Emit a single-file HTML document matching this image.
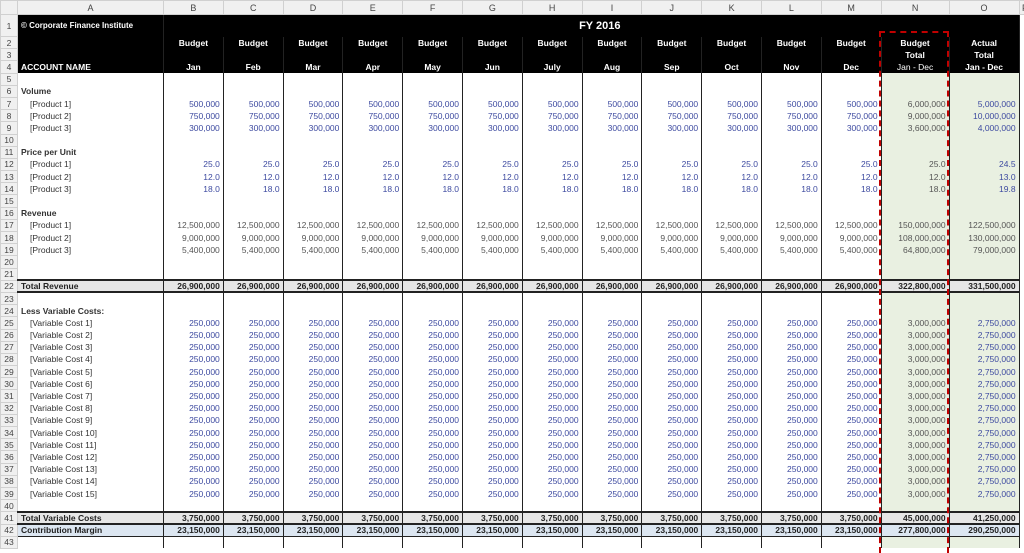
<!DOCTYPE html>
<html><head><meta charset="utf-8"><style>
body{margin:0;width:1024px;height:539px;overflow:hidden;background:#fff;font-family:"Liberation Sans",sans-serif;position:relative}
table{border-collapse:collapse;table-layout:fixed;width:1030px;position:absolute;left:0;top:0}
td,th{padding:0 3px;font-size:8.5px;white-space:nowrap;overflow:hidden;line-height:10px}
th{background:#f0f0f0;color:#444;font-weight:normal;border:1px solid #d0d0d0;text-align:center;padding:0}
tr{height:12.2px}
tr.h{height:14px} tr.h th{font-size:9px}
tr.r1{height:22px}
td{border-right:1px solid #222;text-align:right;color:#555}
td.a{text-align:left;color:#333;border-right:1px solid #222}
td.i{padding-left:12px}
.bk td{background:#000;color:#fff;font-weight:bold;text-align:center;font-size:8.5px}
.bk td.a{text-align:left}
.b{color:#3d4aa0}
.gr{background:#e9f0e1}
.bl td.x{color:#3d4aa0}
.bd{font-weight:bold;color:#222}
.tot td{background:#e6e6e6;font-weight:bold;color:#222;border-top:2px solid #222;border-bottom:2px solid #222}
.cm td{background:#dce6f1;font-weight:bold;color:#222;border-bottom:1px solid #222}
td.p{border:none;background:#fff}
#dash{position:absolute;left:879px;top:31px;width:66px;height:520px;border:2px dashed #c00000;border-bottom:none}
</style></head><body>
<table>
<colgroup><col style="width:17px"><col style="width:146px"><col span="12" style="width:59.8px"><col style="width:68px"><col style="width:70px"><col style="width:12px"></colgroup>
<tr class="h"><th></th><th>A</th><th>B</th><th>C</th><th>D</th><th>E</th><th>F</th><th>G</th><th>H</th><th>I</th><th>J</th><th>K</th><th>L</th><th>M</th><th>N</th><th>O</th><th>P</th></tr>
<tr class="bk r1"><th>1</th><td class="a" style="font-size:8px">© Corporate Finance Institute</td><td colspan="14" style="font-size:11px;padding-left:20px">FY 2016</td><td class="p"></td></tr>
<tr class="bk"><th>2</th><td class="a"></td><td>Budget</td><td>Budget</td><td>Budget</td><td>Budget</td><td>Budget</td><td>Budget</td><td>Budget</td><td>Budget</td><td>Budget</td><td>Budget</td><td>Budget</td><td>Budget</td><td>Budget</td><td>Actual</td><td class="p"></td></tr>
<tr class="bk"><th>3</th><td class="a"></td><td></td><td></td><td></td><td></td><td></td><td></td><td></td><td></td><td></td><td></td><td></td><td></td><td>Total</td><td>Total</td><td class="p"></td></tr>
<tr class="bk"><th>4</th><td class="a">ACCOUNT NAME</td><td>Jan</td><td>Feb</td><td>Mar</td><td>Apr</td><td>May</td><td>Jun</td><td>July</td><td>Aug</td><td>Sep</td><td>Oct</td><td>Nov</td><td>Dec</td><td style="font-weight:normal">Jan - Dec</td><td>Jan - Dec</td><td class="p"></td></tr>
<tr><th>5</th><td class="a"></td><td></td><td></td><td></td><td></td><td></td><td></td><td></td><td></td><td></td><td></td><td></td><td></td><td class="gr"></td><td class="gr"></td><td class="p"></td></tr>
<tr><th>6</th><td class="a bd">Volume</td><td></td><td></td><td></td><td></td><td></td><td></td><td></td><td></td><td></td><td></td><td></td><td></td><td class="gr"></td><td class="gr"></td><td class="p"></td></tr>
<tr class="b"><th>7</th><td class="a i">[Product 1]</td><td class="b">500,000</td><td class="b">500,000</td><td class="b">500,000</td><td class="b">500,000</td><td class="b">500,000</td><td class="b">500,000</td><td class="b">500,000</td><td class="b">500,000</td><td class="b">500,000</td><td class="b">500,000</td><td class="b">500,000</td><td class="b">500,000</td><td class="gr">6,000,000</td><td class="gr b">5,000,000</td><td class="p"></td></tr>
<tr><th>8</th><td class="a i">[Product 2]</td><td class="b">750,000</td><td class="b">750,000</td><td class="b">750,000</td><td class="b">750,000</td><td class="b">750,000</td><td class="b">750,000</td><td class="b">750,000</td><td class="b">750,000</td><td class="b">750,000</td><td class="b">750,000</td><td class="b">750,000</td><td class="b">750,000</td><td class="gr">9,000,000</td><td class="gr b">10,000,000</td><td class="p"></td></tr>
<tr><th>9</th><td class="a i">[Product 3]</td><td class="b">300,000</td><td class="b">300,000</td><td class="b">300,000</td><td class="b">300,000</td><td class="b">300,000</td><td class="b">300,000</td><td class="b">300,000</td><td class="b">300,000</td><td class="b">300,000</td><td class="b">300,000</td><td class="b">300,000</td><td class="b">300,000</td><td class="gr">3,600,000</td><td class="gr b">4,000,000</td><td class="p"></td></tr>
<tr><th>10</th><td class="a"></td><td></td><td></td><td></td><td></td><td></td><td></td><td></td><td></td><td></td><td></td><td></td><td></td><td class="gr"></td><td class="gr"></td><td class="p"></td></tr>
<tr><th>11</th><td class="a bd">Price per Unit</td><td></td><td></td><td></td><td></td><td></td><td></td><td></td><td></td><td></td><td></td><td></td><td></td><td class="gr"></td><td class="gr"></td><td class="p"></td></tr>
<tr><th>12</th><td class="a i">[Product 1]</td><td class="b">25.0</td><td class="b">25.0</td><td class="b">25.0</td><td class="b">25.0</td><td class="b">25.0</td><td class="b">25.0</td><td class="b">25.0</td><td class="b">25.0</td><td class="b">25.0</td><td class="b">25.0</td><td class="b">25.0</td><td class="b">25.0</td><td class="gr">25.0</td><td class="gr b">24.5</td><td class="p"></td></tr>
<tr><th>13</th><td class="a i">[Product 2]</td><td class="b">12.0</td><td class="b">12.0</td><td class="b">12.0</td><td class="b">12.0</td><td class="b">12.0</td><td class="b">12.0</td><td class="b">12.0</td><td class="b">12.0</td><td class="b">12.0</td><td class="b">12.0</td><td class="b">12.0</td><td class="b">12.0</td><td class="gr">12.0</td><td class="gr b">13.0</td><td class="p"></td></tr>
<tr><th>14</th><td class="a i">[Product 3]</td><td class="b">18.0</td><td class="b">18.0</td><td class="b">18.0</td><td class="b">18.0</td><td class="b">18.0</td><td class="b">18.0</td><td class="b">18.0</td><td class="b">18.0</td><td class="b">18.0</td><td class="b">18.0</td><td class="b">18.0</td><td class="b">18.0</td><td class="gr">18.0</td><td class="gr b">19.8</td><td class="p"></td></tr>
<tr><th>15</th><td class="a"></td><td></td><td></td><td></td><td></td><td></td><td></td><td></td><td></td><td></td><td></td><td></td><td></td><td class="gr"></td><td class="gr"></td><td class="p"></td></tr>
<tr><th>16</th><td class="a bd">Revenue</td><td></td><td></td><td></td><td></td><td></td><td></td><td></td><td></td><td></td><td></td><td></td><td></td><td class="gr"></td><td class="gr"></td><td class="p"></td></tr>
<tr><th>17</th><td class="a i">[Product 1]</td><td>12,500,000</td><td>12,500,000</td><td>12,500,000</td><td>12,500,000</td><td>12,500,000</td><td>12,500,000</td><td>12,500,000</td><td>12,500,000</td><td>12,500,000</td><td>12,500,000</td><td>12,500,000</td><td>12,500,000</td><td class="gr">150,000,000</td><td class="gr">122,500,000</td><td class="p"></td></tr>
<tr><th>18</th><td class="a i">[Product 2]</td><td>9,000,000</td><td>9,000,000</td><td>9,000,000</td><td>9,000,000</td><td>9,000,000</td><td>9,000,000</td><td>9,000,000</td><td>9,000,000</td><td>9,000,000</td><td>9,000,000</td><td>9,000,000</td><td>9,000,000</td><td class="gr">108,000,000</td><td class="gr">130,000,000</td><td class="p"></td></tr>
<tr><th>19</th><td class="a i">[Product 3]</td><td>5,400,000</td><td>5,400,000</td><td>5,400,000</td><td>5,400,000</td><td>5,400,000</td><td>5,400,000</td><td>5,400,000</td><td>5,400,000</td><td>5,400,000</td><td>5,400,000</td><td>5,400,000</td><td>5,400,000</td><td class="gr">64,800,000</td><td class="gr">79,000,000</td><td class="p"></td></tr>
<tr><th>20</th><td class="a"></td><td></td><td></td><td></td><td></td><td></td><td></td><td></td><td></td><td></td><td></td><td></td><td></td><td class="gr"></td><td class="gr"></td><td class="p"></td></tr>
<tr><th>21</th><td class="a"></td><td></td><td></td><td></td><td></td><td></td><td></td><td></td><td></td><td></td><td></td><td></td><td></td><td class="gr"></td><td class="gr"></td><td class="p"></td></tr>
<tr class="tot"><th>22</th><td class="a">Total Revenue</td><td>26,900,000</td><td>26,900,000</td><td>26,900,000</td><td>26,900,000</td><td>26,900,000</td><td>26,900,000</td><td>26,900,000</td><td>26,900,000</td><td>26,900,000</td><td>26,900,000</td><td>26,900,000</td><td>26,900,000</td><td>322,800,000</td><td>331,500,000</td><td class="p"></td></tr>
<tr><th>23</th><td class="a"></td><td></td><td></td><td></td><td></td><td></td><td></td><td></td><td></td><td></td><td></td><td></td><td></td><td class="gr"></td><td class="gr"></td><td class="p"></td></tr>
<tr><th>24</th><td class="a bd">Less Variable Costs:</td><td></td><td></td><td></td><td></td><td></td><td></td><td></td><td></td><td></td><td></td><td></td><td></td><td class="gr"></td><td class="gr"></td><td class="p"></td></tr>
<tr><th>25</th><td class="a i">[Variable Cost 1]</td><td class="b">250,000</td><td class="b">250,000</td><td class="b">250,000</td><td class="b">250,000</td><td class="b">250,000</td><td class="b">250,000</td><td class="b">250,000</td><td class="b">250,000</td><td class="b">250,000</td><td class="b">250,000</td><td class="b">250,000</td><td class="b">250,000</td><td class="gr">3,000,000</td><td class="gr b">2,750,000</td><td class="p"></td></tr>
<tr><th>26</th><td class="a i">[Variable Cost 2]</td><td class="b">250,000</td><td class="b">250,000</td><td class="b">250,000</td><td class="b">250,000</td><td class="b">250,000</td><td class="b">250,000</td><td class="b">250,000</td><td class="b">250,000</td><td class="b">250,000</td><td class="b">250,000</td><td class="b">250,000</td><td class="b">250,000</td><td class="gr">3,000,000</td><td class="gr b">2,750,000</td><td class="p"></td></tr>
<tr><th>27</th><td class="a i">[Variable Cost 3]</td><td class="b">250,000</td><td class="b">250,000</td><td class="b">250,000</td><td class="b">250,000</td><td class="b">250,000</td><td class="b">250,000</td><td class="b">250,000</td><td class="b">250,000</td><td class="b">250,000</td><td class="b">250,000</td><td class="b">250,000</td><td class="b">250,000</td><td class="gr">3,000,000</td><td class="gr b">2,750,000</td><td class="p"></td></tr>
<tr><th>28</th><td class="a i">[Variable Cost 4]</td><td class="b">250,000</td><td class="b">250,000</td><td class="b">250,000</td><td class="b">250,000</td><td class="b">250,000</td><td class="b">250,000</td><td class="b">250,000</td><td class="b">250,000</td><td class="b">250,000</td><td class="b">250,000</td><td class="b">250,000</td><td class="b">250,000</td><td class="gr">3,000,000</td><td class="gr b">2,750,000</td><td class="p"></td></tr>
<tr><th>29</th><td class="a i">[Variable Cost 5]</td><td class="b">250,000</td><td class="b">250,000</td><td class="b">250,000</td><td class="b">250,000</td><td class="b">250,000</td><td class="b">250,000</td><td class="b">250,000</td><td class="b">250,000</td><td class="b">250,000</td><td class="b">250,000</td><td class="b">250,000</td><td class="b">250,000</td><td class="gr">3,000,000</td><td class="gr b">2,750,000</td><td class="p"></td></tr>
<tr><th>30</th><td class="a i">[Variable Cost 6]</td><td class="b">250,000</td><td class="b">250,000</td><td class="b">250,000</td><td class="b">250,000</td><td class="b">250,000</td><td class="b">250,000</td><td class="b">250,000</td><td class="b">250,000</td><td class="b">250,000</td><td class="b">250,000</td><td class="b">250,000</td><td class="b">250,000</td><td class="gr">3,000,000</td><td class="gr b">2,750,000</td><td class="p"></td></tr>
<tr><th>31</th><td class="a i">[Variable Cost 7]</td><td class="b">250,000</td><td class="b">250,000</td><td class="b">250,000</td><td class="b">250,000</td><td class="b">250,000</td><td class="b">250,000</td><td class="b">250,000</td><td class="b">250,000</td><td class="b">250,000</td><td class="b">250,000</td><td class="b">250,000</td><td class="b">250,000</td><td class="gr">3,000,000</td><td class="gr b">2,750,000</td><td class="p"></td></tr>
<tr><th>32</th><td class="a i">[Variable Cost 8]</td><td class="b">250,000</td><td class="b">250,000</td><td class="b">250,000</td><td class="b">250,000</td><td class="b">250,000</td><td class="b">250,000</td><td class="b">250,000</td><td class="b">250,000</td><td class="b">250,000</td><td class="b">250,000</td><td class="b">250,000</td><td class="b">250,000</td><td class="gr">3,000,000</td><td class="gr b">2,750,000</td><td class="p"></td></tr>
<tr><th>33</th><td class="a i">[Variable Cost 9]</td><td class="b">250,000</td><td class="b">250,000</td><td class="b">250,000</td><td class="b">250,000</td><td class="b">250,000</td><td class="b">250,000</td><td class="b">250,000</td><td class="b">250,000</td><td class="b">250,000</td><td class="b">250,000</td><td class="b">250,000</td><td class="b">250,000</td><td class="gr">3,000,000</td><td class="gr b">2,750,000</td><td class="p"></td></tr>
<tr><th>34</th><td class="a i">[Variable Cost 10]</td><td class="b">250,000</td><td class="b">250,000</td><td class="b">250,000</td><td class="b">250,000</td><td class="b">250,000</td><td class="b">250,000</td><td class="b">250,000</td><td class="b">250,000</td><td class="b">250,000</td><td class="b">250,000</td><td class="b">250,000</td><td class="b">250,000</td><td class="gr">3,000,000</td><td class="gr b">2,750,000</td><td class="p"></td></tr>
<tr><th>35</th><td class="a i">[Variable Cost 11]</td><td class="b">250,000</td><td class="b">250,000</td><td class="b">250,000</td><td class="b">250,000</td><td class="b">250,000</td><td class="b">250,000</td><td class="b">250,000</td><td class="b">250,000</td><td class="b">250,000</td><td class="b">250,000</td><td class="b">250,000</td><td class="b">250,000</td><td class="gr">3,000,000</td><td class="gr b">2,750,000</td><td class="p"></td></tr>
<tr><th>36</th><td class="a i">[Variable Cost 12]</td><td class="b">250,000</td><td class="b">250,000</td><td class="b">250,000</td><td class="b">250,000</td><td class="b">250,000</td><td class="b">250,000</td><td class="b">250,000</td><td class="b">250,000</td><td class="b">250,000</td><td class="b">250,000</td><td class="b">250,000</td><td class="b">250,000</td><td class="gr">3,000,000</td><td class="gr b">2,750,000</td><td class="p"></td></tr>
<tr><th>37</th><td class="a i">[Variable Cost 13]</td><td class="b">250,000</td><td class="b">250,000</td><td class="b">250,000</td><td class="b">250,000</td><td class="b">250,000</td><td class="b">250,000</td><td class="b">250,000</td><td class="b">250,000</td><td class="b">250,000</td><td class="b">250,000</td><td class="b">250,000</td><td class="b">250,000</td><td class="gr">3,000,000</td><td class="gr b">2,750,000</td><td class="p"></td></tr>
<tr><th>38</th><td class="a i">[Variable Cost 14]</td><td class="b">250,000</td><td class="b">250,000</td><td class="b">250,000</td><td class="b">250,000</td><td class="b">250,000</td><td class="b">250,000</td><td class="b">250,000</td><td class="b">250,000</td><td class="b">250,000</td><td class="b">250,000</td><td class="b">250,000</td><td class="b">250,000</td><td class="gr">3,000,000</td><td class="gr b">2,750,000</td><td class="p"></td></tr>
<tr><th>39</th><td class="a i">[Variable Cost 15]</td><td class="b">250,000</td><td class="b">250,000</td><td class="b">250,000</td><td class="b">250,000</td><td class="b">250,000</td><td class="b">250,000</td><td class="b">250,000</td><td class="b">250,000</td><td class="b">250,000</td><td class="b">250,000</td><td class="b">250,000</td><td class="b">250,000</td><td class="gr">3,000,000</td><td class="gr b">2,750,000</td><td class="p"></td></tr>
<tr><th>40</th><td class="a"></td><td></td><td></td><td></td><td></td><td></td><td></td><td></td><td></td><td></td><td></td><td></td><td></td><td class="gr"></td><td class="gr"></td><td class="p"></td></tr>
<tr class="tot"><th>41</th><td class="a">Total Variable Costs</td><td>3,750,000</td><td>3,750,000</td><td>3,750,000</td><td>3,750,000</td><td>3,750,000</td><td>3,750,000</td><td>3,750,000</td><td>3,750,000</td><td>3,750,000</td><td>3,750,000</td><td>3,750,000</td><td>3,750,000</td><td>45,000,000</td><td>41,250,000</td><td class="p"></td></tr>
<tr class="cm"><th>42</th><td class="a">Contribution Margin</td><td>23,150,000</td><td>23,150,000</td><td>23,150,000</td><td>23,150,000</td><td>23,150,000</td><td>23,150,000</td><td>23,150,000</td><td>23,150,000</td><td>23,150,000</td><td>23,150,000</td><td>23,150,000</td><td>23,150,000</td><td>277,800,000</td><td>290,250,000</td><td class="p"></td></tr>
<tr><th>43</th><td class="a"></td><td></td><td></td><td></td><td></td><td></td><td></td><td></td><td></td><td></td><td></td><td></td><td></td><td class="gr"></td><td class="gr"></td><td class="p"></td></tr>
</table>
<div id="dash"></div>
</body></html>
